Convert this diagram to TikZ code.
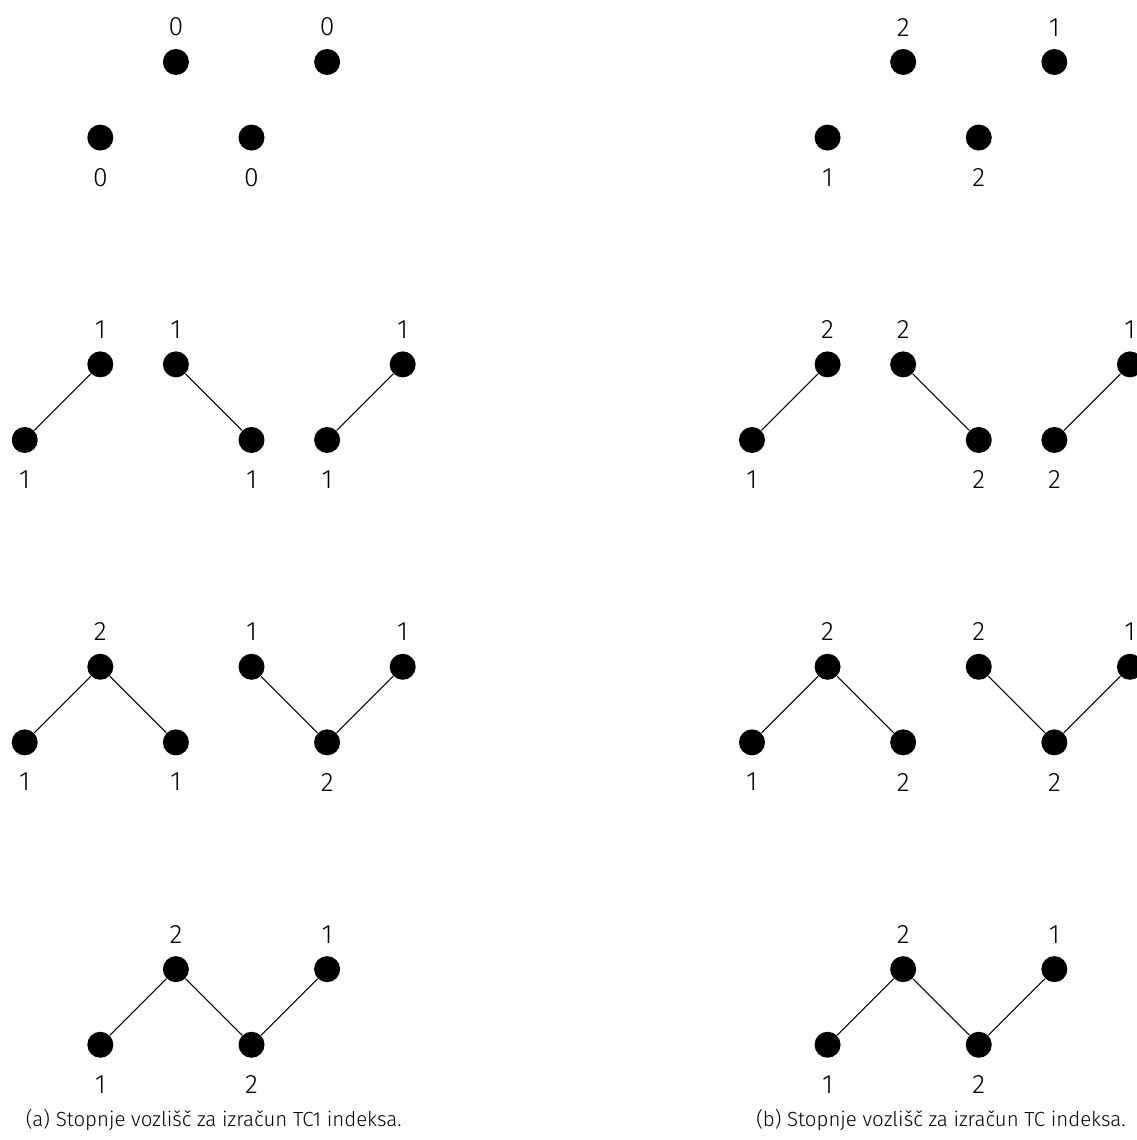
\documentclass[tikz,border=0pt]{standalone}
\usepackage{fontspec}
\setmainfont{Fira Sans Light}
\usepackage{tikz}
\usetikzlibrary{positioning}

\begin{document}
\begin{tikzpicture}[
    vtx/.style={circle, fill=black, inner sep=0pt, minimum size=0.344cm},
    degup/.style={label={[font=\fontsize{10}{12}\selectfont, label distance=0.04cm]above:#1}},
    degdn/.style={label={[font=\fontsize{10}{12}\selectfont, label distance=0.105cm]below:#1}},
    edge/.style={draw=black, thin},
    capt/.style={font=\fontsize{7.7}{9}\selectfont, inner sep=0pt}
]
    \useasboundingbox (0,0) rectangle (15.03,-15.08);

    % (a) TC1
    \begin{scope}[shift={(0.327,-0.82)}]
        \node[vtx, degup=0] (a11) at (2,0) {};
        \node[vtx, degup=0] (a12) at (4,0) {};
        \node[vtx, degdn=0] (a13) at (1,-1) {};
        \node[vtx, degdn=0] (a14) at (3,-1) {};

        \node[vtx, degdn=1] (a21) at (0,-5) {};
        \node[vtx, degup=1] (a22) at (1,-4) {};
        \node[vtx, degup=1] (a23) at (2,-4) {};
        \node[vtx, degdn=1] (a24) at (3,-5) {};
        \node[vtx, degdn=1] (a25) at (4,-5) {};
        \node[vtx, degup=1] (a26) at (5,-4) {};
        \draw[edge] (a21) -- (a22);
        \draw[edge] (a23) -- (a24);
        \draw[edge] (a25) -- (a26);

        \node[vtx, degdn=1] (a31) at (0,-9) {};
        \node[vtx, degup=2] (a32) at (1,-8) {};
        \node[vtx, degdn=1] (a33) at (2,-9) {};
        \node[vtx, degup=1] (a34) at (3,-8) {};
        \node[vtx, degdn=2] (a35) at (4,-9) {};
        \node[vtx, degup=1] (a36) at (5,-8) {};
        \draw[edge] (a31) -- (a32) -- (a33);
        \draw[edge] (a34) -- (a35) -- (a36);

        \node[vtx, degdn=1] (a41) at (1,-13) {};
        \node[vtx, degup=2] (a42) at (2,-12) {};
        \node[vtx, degdn=2] (a43) at (3,-13) {};
        \node[vtx, degup=1] (a44) at (4,-12) {};
        \draw[edge] (a41) -- (a42) -- (a43) -- (a44);

        \node[capt] (capa) at (2.5,-14) {(a) Stopnje vozlišč za izračun TC1 indeksa.};
    \end{scope}

    % (b) TC
    \begin{scope}[shift={(9.947,-0.82)}]
        \node[vtx, degup=2] (b11) at (2,0) {};
        \node[vtx, degup=1] (b12) at (4,0) {};
        \node[vtx, degdn=1] (b13) at (1,-1) {};
        \node[vtx, degdn=2] (b14) at (3,-1) {};

        \node[vtx, degdn=1] (b21) at (0,-5) {};
        \node[vtx, degup=2] (b22) at (1,-4) {};
        \node[vtx, degup=2] (b23) at (2,-4) {};
        \node[vtx, degdn=2] (b24) at (3,-5) {};
        \node[vtx, degdn=2] (b25) at (4,-5) {};
        \node[vtx, degup=1] (b26) at (5,-4) {};
        \draw[edge] (b21) -- (b22);
        \draw[edge] (b23) -- (b24);
        \draw[edge] (b25) -- (b26);

        \node[vtx, degdn=1] (b31) at (0,-9) {};
        \node[vtx, degup=2] (b32) at (1,-8) {};
        \node[vtx, degdn=2] (b33) at (2,-9) {};
        \node[vtx, degup=2] (b34) at (3,-8) {};
        \node[vtx, degdn=2] (b35) at (4,-9) {};
        \node[vtx, degup=1] (b36) at (5,-8) {};
        \draw[edge] (b31) -- (b32) -- (b33);
        \draw[edge] (b34) -- (b35) -- (b36);

        \node[vtx, degdn=1] (b41) at (1,-13) {};
        \node[vtx, degup=2] (b42) at (2,-12) {};
        \node[vtx, degdn=2] (b43) at (3,-13) {};
        \node[vtx, degup=1] (b44) at (4,-12) {};
        \draw[edge] (b41) -- (b42) -- (b43) -- (b44);

        \node[capt] (capb) at (2.5,-14) {(b) Stopnje vozlišč za izračun TC indeksa.};
    \end{scope}
\end{tikzpicture}
\end{document}
